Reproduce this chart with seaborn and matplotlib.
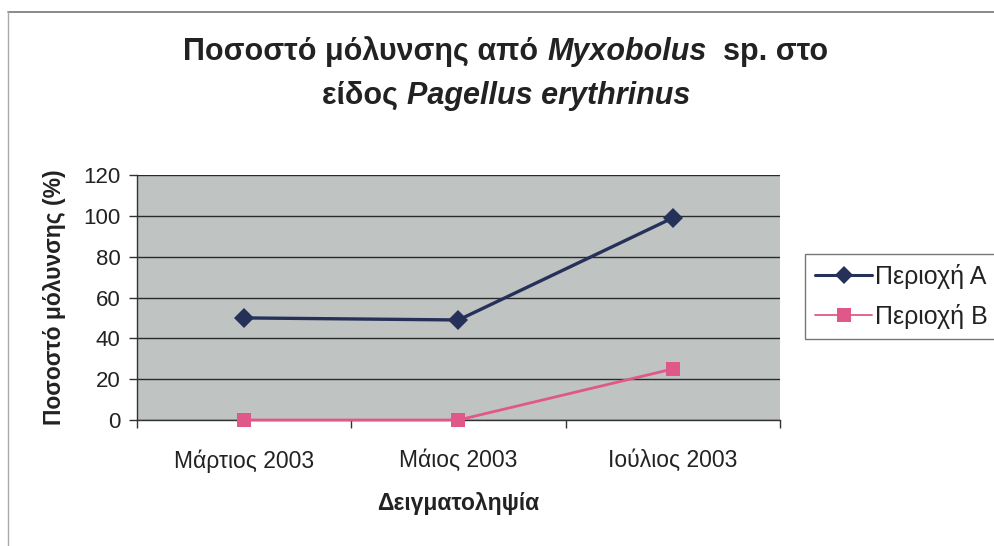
import matplotlib
matplotlib.use("Agg")
import matplotlib.pyplot as plt
from matplotlib.lines import Line2D
import seaborn as sns
import pandas as pd

months = ["Μάρτιος 2003", "Μάιος 2003", "Ιούλιος 2003"]
area_a = [50, 49, 99]
area_b = [0, 0, 25]
series_names = ["Περιοχή Α", "Περιοχή Β"]
y_ticks = [0, 20, 40, 60, 80, 100, 120]

sns.set_theme(style="white")
plt.rcParams["font.family"] = ["Liberation Sans", "DejaVu Sans"]

df = pd.DataFrame({
    "month": months * 2,
    "value": area_a + area_b,
    "region": [series_names[0]] * 3 + [series_names[1]] * 3,
})

W, H = 995, 546
fig = plt.figure(figsize=(W / 100, H / 100), dpi=100)
fig.patch.set_facecolor("white")

ax = fig.add_axes([137 / W, 1 - 420 / H, (780 - 137) / W, (420 - 175) / H])
ax.set_facecolor("#bfc3c1")

colors = {series_names[0]: "#263159", series_names[1]: "#e0588a"}
markers = {series_names[0]: "D", series_names[1]: "s"}
sns.lineplot(data=df, x="month", y="value", hue="region", style="region",
             palette=colors, markers=markers, dashes=False, ax=ax,
             linewidth=2.4, markersize=10, markeredgewidth=0, legend=False,
             sort=False)
for ln in ax.lines:
    ln.set_clip_on(False)
    ln.set_zorder(5)
    if ln.get_marker() == "s":
        ln.set_linewidth(2.0)

ax.set_xlim(-0.5, 2.5)
ax.set_ylim(0, 120)
ax.set_yticks(y_ticks)
ax.yaxis.grid(True, color="#2a2a2a", linewidth=1.0)
ax.set_axisbelow(True)
for s in ["top", "right"]:
    ax.spines[s].set_visible(False)
for s in ["left", "bottom"]:
    ax.spines[s].set_color("#333333")
    ax.spines[s].set_linewidth(1.0)

ax.tick_params(axis="y", which="major", direction="out", length=6, width=1,
               color="#333333", labelsize=16, labelcolor="#222222", pad=6, left=True)
ax.set_xticks([0, 1, 2])
ax.set_xticklabels(months)
ax.tick_params(axis="x", which="major", length=0, labelsize=16.5,
               labelcolor="#222222", pad=21)
ax.set_xticks([-0.5, 0.5, 1.5, 2.5], minor=True)
ax.tick_params(axis="x", which="minor", direction="out", length=6, width=1,
               color="#333333", bottom=True)

ax.set_xlabel("Δειγματοληψία", fontsize=16.5, fontweight="bold", labelpad=14,
              color="#222222")
ax.set_ylabel("Ποσοστό μόλυνσης (%)", fontsize=16.5, fontweight="bold",
              labelpad=12, color="#222222")

# legend
handles = [Line2D([0], [0], color=colors[n], marker=markers[n], linewidth=2.2 if i == 0 else 1.3,
                  markersize=9 if i == 0 else 10, markeredgewidth=0)
           for i, n in enumerate(series_names)]
leg = fig.legend(handles, series_names, loc="upper left",
                 bbox_to_anchor=(805 / W, 1 - 254 / H), frameon=True,
                 fontsize=18, handlelength=2.3, handletextpad=0.1,
                 borderpad=0.4, labelspacing=0.6, fancybox=False,
                 borderaxespad=0)
leg.get_frame().set_edgecolor("#555555")
leg.get_frame().set_linewidth(1.0)
for t in leg.get_texts():
    t.set_color("#222222")

# outer frame lines
fig.add_artist(Line2D([8 / W, 1], [1 - 12 / H, 1 - 12 / H], color="#777777", linewidth=1.2))
fig.add_artist(Line2D([8 / W, 8 / W], [1 - 12 / H, 0], color="#aaaaaa", linewidth=1.0))

# title with mixed italics
renderer = fig.canvas.get_renderer()

def mixed_line(pieces, cx, cy, size):
    texts = []
    widths = []
    for s, italic in pieces:
        t = fig.text(0, cy, s, fontsize=size, fontweight="bold",
                     fontstyle="italic" if italic else "normal",
                     va="center", ha="left", color="#222222")
        bb = t.get_window_extent(renderer=renderer)
        texts.append(t)
        widths.append(bb.width)
    total = sum(widths)
    x = cx * W - total / 2
    for t, w in zip(texts, widths):
        t.set_x(x / W)
        x += w

mixed_line([("Ποσοστό μόλυνσης από ", False), ("Myxobolus", True), ("  sp. στο", False)],
           506 / W, 1 - 52 / H, 22)
mixed_line([("είδος ", False), ("Pagellus erythrinus", True)],
           506 / W, 1 - 96 / H, 22)

fig.savefig("out.png", dpi=100, facecolor="white")
